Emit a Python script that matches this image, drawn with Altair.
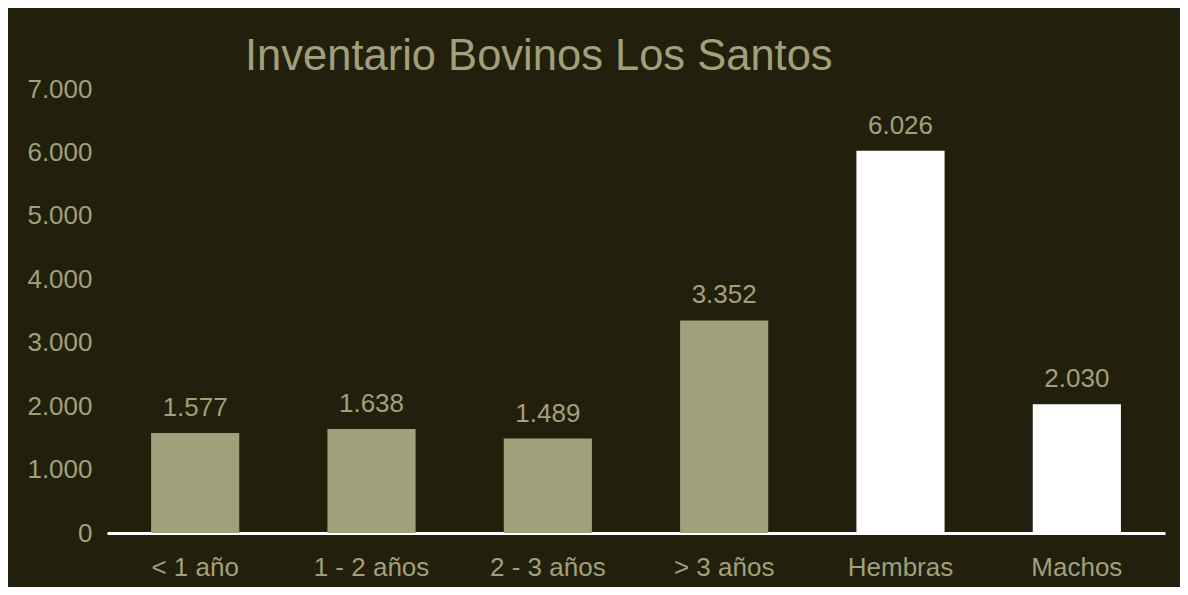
import altair as alt
import pandas as pd

categories = ["< 1 año", "1 - 2 años", "2 - 3 años", "> 3 años", "Hembras", "Machos"]
values = [1577, 1638, 1489, 3352, 6026, 2030]
groups = ["edad", "edad", "edad", "edad", "sexo", "sexo"]
y_ticks = [0, 1000, 2000, 3000, 4000, 5000, 6000, 7000]

df = pd.DataFrame({"cat": categories, "val": values, "grp": groups})

BG = "#221F0C"
TXT = "#A0A07A"
FONT = "Liberation Sans"

x = alt.X("cat:N", sort=categories,
          scale=alt.Scale(paddingInner=0.5, paddingOuter=0.25),
          axis=alt.Axis(title=None, labelAngle=0, ticks=False, domainColor="#FFFFFF",
                        domainWidth=3, labelPadding=21, labelFontSize=26,
                        labelColor=TXT, labelFont=FONT))
y = alt.Y("val:Q", scale=alt.Scale(domain=[0, 7000], nice=False),
          axis=alt.Axis(title=None, values=y_ticks, grid=False, domain=False, ticks=False,
                        labelPadding=15, labelFontSize=26, labelColor=TXT, labelFont=FONT,
                        labelExpr="replace(format(datum.value, ',d'), ',', '.')"))

bars = alt.Chart(df).mark_bar().encode(
    x=x, y=y,
    color=alt.Color("grp:N", scale=alt.Scale(domain=["edad", "sexo"], range=[TXT, "#FFFFFF"]), legend=None),
)

text = alt.Chart(df).transform_calculate(
    lbl="replace(format(datum.val, ',d'), ',', '.')"
).mark_text(baseline="alphabetic", dy=-17, fontSize=26, font=FONT, color=TXT).encode(
    x=alt.X("cat:N", sort=categories), y="val:Q", text="lbl:N"
)

chart = alt.layer(bars, text).properties(
    width=1058, height=444,
    title=alt.TitleParams("Inventario Bovinos Los Santos", anchor="start", frame="group",
                          dx=138, dy=41, offset=4, baseline="alphabetic", fontSize=43.5,
                          font=FONT, fontWeight="normal", color=TXT),
    autosize=alt.AutoSizeParams(type="none"),
    padding={"left": 99, "top": 81, "right": 15, "bottom": 54},
    background=BG,
).configure_view(stroke=None)

chart.save("out.html", embed_options={"renderer": "svg", "actions": False})
